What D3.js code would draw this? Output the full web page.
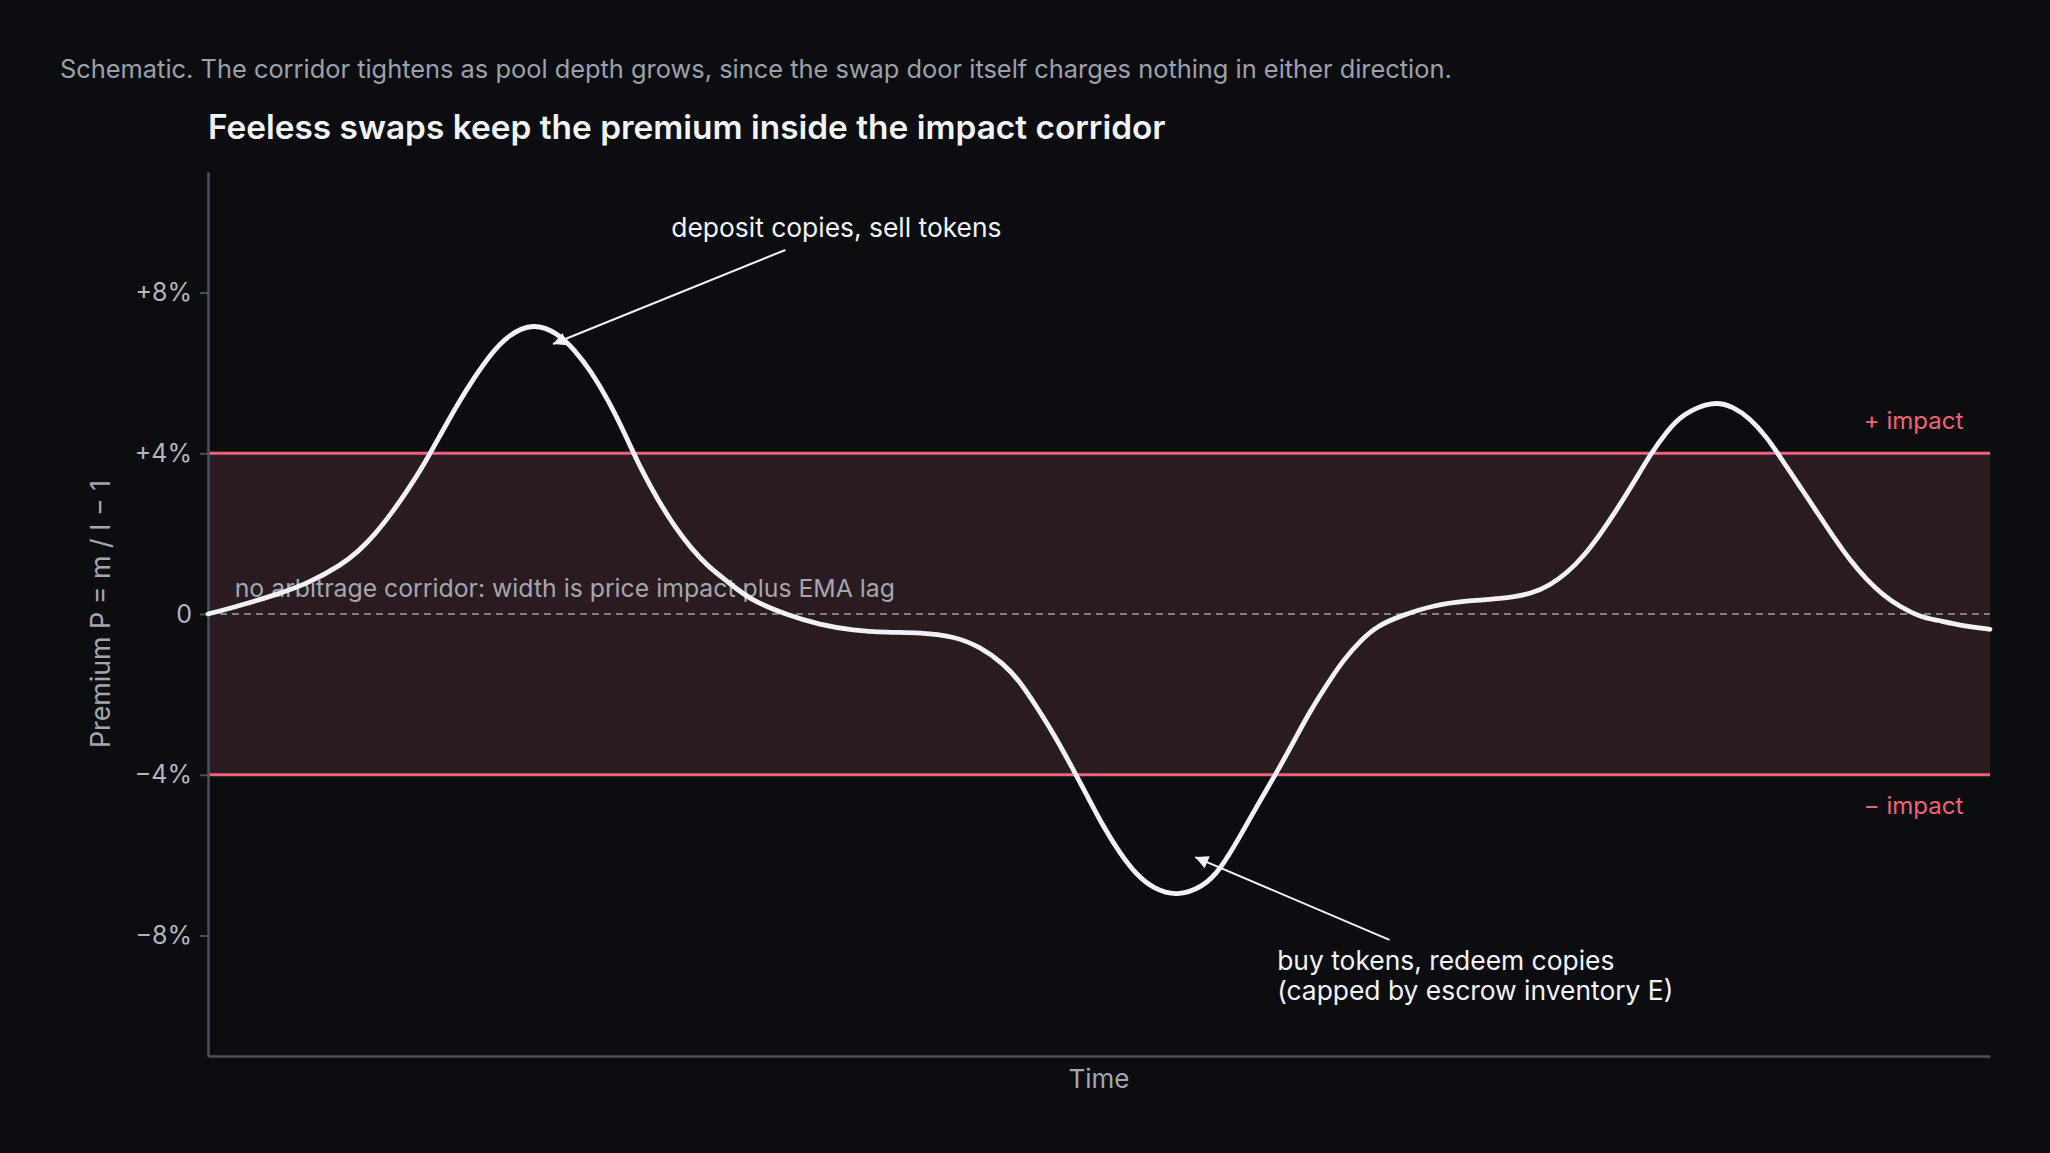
<!DOCTYPE html>
<html>
<head>
<meta charset="utf-8">
<script src="https://cdn.jsdelivr.net/npm/d3@7"></script>
<style>
html,body{margin:0;padding:0;background:#0c0d11;}
svg{display:block;}
text{font-family:Inter,"Noto Sans",sans-serif;}
</style>
</head>
<body>
<svg id="chart" width="2050" height="1153"></svg>
<script>
// ---- data ----
const time = [0,1.87,3.74,5.61,7.48,8.42,9.35,10.29,11.22,12.16,13.09,14.03,14.96,15.9,16.84,18.24,19.64,20.58,21.51,22.45,23.38,24.32,25.25,26.19,27.12,28.06,29.18,30.42,32.47,34.34,36.21,38.09,39.96,41.83,43.32,44.63,45.57,46.5,47.44,48.37,49.31,50.24,51.18,52.12,53.05,54.36,55.85,56.79,57.91,58.9,59.9,60.9,61.8,62.8,63.7,64.7,65.6,66.89,68.76,70.63,72.5,74.37,75.31,76.24,77.18,78.11,79.05,79.98,80.92,81.85,82.79,84.47,85.6,86.53,87.47,88.4,89.34,90.27,91.21,92.14,93.08,94.01,94.95,96.07,97.0,98.5,100];
const premium = [0,0.22,0.47,0.76,1.22,1.55,1.97,2.5,3.09,3.75,4.5,5.24,5.9,6.49,6.94,7.25,6.99,6.57,6.03,5.33,4.5,3.58,2.84,2.17,1.63,1.18,0.8,0.35,-0.02,-0.27,-0.41,-0.46,-0.46,-0.55,-0.81,-1.23,-1.68,-2.31,-2.97,-3.72,-4.5,-5.29,-5.96,-6.5,-6.83,-7.03,-6.79,-6.37,-5.54,-4.75,-4.0,-3.2,-2.45,-1.75,-1.15,-0.65,-0.3,-0.05,0.22,0.33,0.37,0.51,0.72,1.01,1.43,1.97,2.59,3.25,3.96,4.54,4.99,5.31,5.16,4.87,4.41,3.79,3.17,2.55,1.92,1.34,0.85,0.47,0.18,-0.07,-0.15,-0.3,-0.38];
const impactBand = [-4, 4];
const yTicks = [-8, -4, 0, 4, 8];
const yTickLabels = ["\u22128%", "\u22124%", "0", "+4%", "+8%"];
const annotationTexts = [["deposit copies, sell tokens"], ["buy tokens, redeem copies", "(capped by escrow inventory E)"]];
const annotationTextAt = [[26.0, 9.38], [60.0, -8.86]];
const annotationFrom = [[32.4, 9.06], [66.3, -8.11]];
const annotationTo = [[19.36, 6.72], [55.4, -6.05]];
const title = "Feeless swaps keep the premium inside the impact corridor";
const subtitle = "Schematic. The corridor tightens as pool depth grows, since the swap door itself charges nothing in either direction.";
const corridorLabel = "no arbitrage corridor: width is price impact plus EMA lag";
const impactLabels = ["+ impact", "\u2212 impact"];
const xLabel = "Time";
const yLabel = "Premium P = m / I \u2212 1";

// ---- layout ----
const W = 2050, H = 1153;
const m = {left: 208, right: 60, top: 172, bottom: 97};
const svg = d3.select("#chart");
svg.append("rect").attr("width", W).attr("height", H).attr("fill", "#0c0d11");

const x = d3.scaleLinear().domain([0, 100]).range([m.left, W - m.right]);
const y = d3.scaleLinear().domain([-11, 11]).range([H - m.bottom, m.top]);

const defs = svg.append("defs");
defs.append("marker").attr("id", "arrow")
  .attr("viewBox", "0 0 10 10").attr("refX", 10).attr("refY", 5)
  .attr("markerWidth", 17).attr("markerHeight", 13).attr("markerUnits", "userSpaceOnUse")
  .attr("orient", "auto")
  .append("path").attr("d", "M0,0 L10,5 L0,10 z").attr("fill", "#f0f2f6");

// subtitle and title
svg.append("text").attr("x", 60).attr("y", 78).attr("fill", "#9ca1ab")
  .attr("font-size", 25.4).text(subtitle);
svg.append("text").attr("x", m.left).attr("y", 139).attr("fill", "#f3f4f6")
  .attr("font-size", 33.4).attr("font-weight", 600).text(title);

// corridor
svg.append("rect")
  .attr("x", x(0)).attr("width", x(100) - x(0))
  .attr("y", y(impactBand[1])).attr("height", y(impactBand[0]) - y(impactBand[1]))
  .attr("fill", "#2a1b21");

// zero dashed
svg.append("line").attr("x1", x(0)).attr("x2", x(100)).attr("y1", y(0)).attr("y2", y(0))
  .attr("stroke", "#7c808a").attr("stroke-width", 2).attr("stroke-dasharray", "7 5");

// corridor label
svg.append("text").attr("x", x(1.5)).attr("y", y(0) - 17).attr("fill", "#a3a7b0")
  .attr("font-size", 24.8).text(corridorLabel);

// impact lines
svg.selectAll("line.impact").data(impactBand).join("line").attr("class", "impact")
  .attr("x1", x(0)).attr("x2", x(100)).attr("y1", d => y(d)).attr("y2", d => y(d))
  .attr("stroke", "#f2607a").attr("stroke-width", 3);

svg.selectAll("text.impact").data(impactBand.slice().reverse()).join("text").attr("class", "impact")
  .attr("x", x(98.5)).attr("y", (d, i) => i === 0 ? y(d) - 24 : y(d) + 39)
  .attr("text-anchor", "end").attr("fill", "#f2607a").attr("font-size", 24)
  .text((d, i) => impactLabels[i]);

// axes
const yAxis = d3.axisLeft(y).tickValues(yTicks).tickSizeInner(8).tickSizeOuter(0).tickPadding(8)
  .tickFormat((d, i) => yTickLabels[i]);
const gy = svg.append("g").attr("transform", `translate(${m.left},0)`).call(yAxis);
gy.select(".domain").attr("stroke", "#4b5059").attr("stroke-width", 2.5);
gy.selectAll(".tick line").attr("stroke", "#4b5059").attr("stroke-width", 2);
gy.selectAll(".tick text").attr("fill", "#b3b7bf").attr("font-size", 25)
  .attr("font-family", "Inter, 'Noto Sans', sans-serif");

const xAxis = d3.axisBottom(x).tickValues([]).tickSizeOuter(0);
const gx = svg.append("g").attr("transform", `translate(0,${H - m.bottom})`).call(xAxis);
gx.select(".domain").attr("stroke", "#4b5059").attr("stroke-width", 2.5);

svg.append("text").attr("x", (x(0) + x(100)) / 2).attr("y", 1088).attr("text-anchor", "middle")
  .attr("fill", "#a3a7b0").attr("font-size", 26).text(xLabel);
svg.append("text").attr("transform", `translate(110,${y(0)}) rotate(-90)`).attr("text-anchor", "middle")
  .attr("fill", "#a3a7b0").attr("font-size", 26.8).text(yLabel);

// curve
const line = d3.line().x(d => x(d[0])).y(d => y(d[1])).curve(d3.curveBasis);
svg.append("path").datum(time.map((t, i) => [t, premium[i]]))
  .attr("d", line).attr("fill", "none").attr("stroke", "#f0f2f6").attr("stroke-width", 4.8)
  .attr("stroke-linejoin", "round").attr("stroke-linecap", "round");

// annotations
annotationTexts.forEach((lines, k) => {
  svg.append("line")
    .attr("x1", x(annotationFrom[k][0])).attr("y1", y(annotationFrom[k][1]))
    .attr("x2", x(annotationTo[k][0])).attr("y2", y(annotationTo[k][1]))
    .attr("stroke", "#f0f2f6").attr("stroke-width", 2).attr("marker-end", "url(#arrow)");
  const t = svg.append("text").attr("fill", "#f3f4f6").attr("font-size", 26.4);
  lines.forEach((s, j) => {
    t.append("tspan").attr("x", x(annotationTextAt[k][0])).attr("y", y(annotationTextAt[k][1]) + j * 30).text(s);
  });
});
</script>
</body>
</html>
